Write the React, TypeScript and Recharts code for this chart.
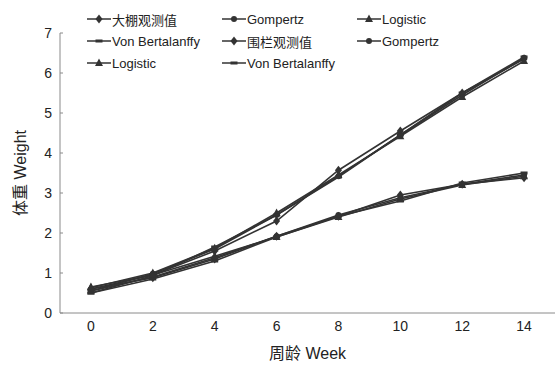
import React from 'react';
import { LineChart, Line, XAxis, YAxis, Legend } from 'recharts';

// weeks (周龄)
const weeks = [0, 2, 4, 6, 8, 10, 12, 14];

// 大棚 (greenhouse) group
const ghObserved = [0.6, 0.95, 1.55, 2.3, 3.57, 4.55, 5.5, 6.35];
const ghGompertz = [0.55, 0.98, 1.6, 2.45, 3.42, 4.45, 5.45, 6.38];
const ghLogistic = [0.63, 1.0, 1.62, 2.5, 3.45, 4.42, 5.4, 6.3];
const ghVonB = [0.5, 0.93, 1.65, 2.45, 3.4, 4.45, 5.5, 6.4];

// 围栏 (fence) group
const fcObserved = [0.6, 0.88, 1.35, 1.92, 2.42, 2.95, 3.22, 3.38];
const fcGompertz = [0.55, 0.9, 1.38, 1.92, 2.45, 2.88, 3.22, 3.45];
const fcLogistic = [0.65, 0.95, 1.42, 1.9, 2.4, 2.85, 3.2, 3.42];
const fcVonB = [0.5, 0.85, 1.3, 1.9, 2.42, 2.8, 3.25, 3.5];

const yTicks = [0, 1, 2, 3, 4, 5, 6, 7];
const edgeTicks = [1, 3, 5, 7, 9, 11, 13, 15];

type Shape = 'diamond' | 'circle' | 'triangle' | 'dash';

const series: { key: string; name: string; shape: Shape; values: number[] }[] = [
  { key: 'ghObs', name: '大棚观测值', shape: 'diamond', values: ghObserved },
  { key: 'ghGom', name: 'Gompertz', shape: 'circle', values: ghGompertz },
  { key: 'ghLog', name: 'Logistic', shape: 'triangle', values: ghLogistic },
  { key: 'ghVB', name: 'Von Bertalanffy', shape: 'dash', values: ghVonB },
  { key: 'fcObs', name: '围栏观测值', shape: 'diamond', values: fcObserved },
  { key: 'fcGom', name: 'Gompertz', shape: 'circle', values: fcGompertz },
  { key: 'fcLog', name: 'Logistic', shape: 'triangle', values: fcLogistic },
  { key: 'fcVB', name: 'Von Bertalanffy', shape: 'dash', values: fcVonB },
];

const data = weeks.map((w, i) => {
  const row: Record<string, number> = { week: w };
  series.forEach(s => { row[s.key] = s.values[i]; });
  return row;
});

const INK = '#333';
const AXIS = '#8a8a8a';
const FONT = '"Liberation Sans", Arial, "Noto Sans CJK SC", sans-serif';

const Marker = ({ shape, cx, cy }: { shape: Shape; cx: number; cy: number }) => {
  if (shape === 'diamond') {
    return <polygon points={`${cx},${cy - 4.5} ${cx + 3.5},${cy} ${cx},${cy + 4.5} ${cx - 3.5},${cy}`} fill={INK} />;
  }
  if (shape === 'circle') {
    return <circle cx={cx} cy={cy} r={3} fill={INK} />;
  }
  if (shape === 'triangle') {
    return <polygon points={`${cx},${cy - 4.5} ${cx + 4},${cy + 3} ${cx - 4},${cy + 3}`} fill={INK} />;
  }
  return <rect x={cx - 3.5} y={cy - 1.5} width={7} height={3} fill={INK} />;
};

const LegendBox = () => (
  <div style={{ display: 'flex', flexWrap: 'wrap', width: 420, fontFamily: FONT, fontSize: 13, color: '#222' }}>
    {series.map(s => (
      <div key={s.key} style={{ width: 135, height: 22, display: 'flex', alignItems: 'center' }}>
        <svg width={26} height={12}>
          <line x1={1} y1={6} x2={25} y2={6} stroke={INK} strokeWidth={1.5} />
          <Marker shape={s.shape} cx={13} cy={6} />
        </svg>
        <span>{s.name}</span>
      </div>
    ))}
  </div>
);

const App: React.FC = () => {
  return (
    <div style={{ position: 'absolute', left: 0, top: 0, background: '#fff' }}>
      <LineChart width={555} height={365} data={data} margin={{ top: 33, right: 0, bottom: 0, left: 0 }}>
        {/* tick marks sit between the week labels */}
        <XAxis
          xAxisId="edges"
          dataKey="week"
          type="number"
          domain={[-1, 15]}
          ticks={edgeTicks}
          tickFormatter={() => ''}
          axisLine={false}
          tickLine={{ stroke: AXIS }}
          tickSize={-4}
          height={0}
        />
        <XAxis
          xAxisId="labels"
          dataKey="week"
          type="number"
          domain={[-1, 15]}
          ticks={weeks}
          tickLine={false}
          axisLine={{ stroke: AXIS }}
          tick={{ fill: '#222', fontSize: 14, fontFamily: FONT }}
          height={52}
          label={{ value: '周龄 Week', position: 'insideBottom', offset: 6, fill: '#222', fontSize: 16, fontFamily: FONT }}
        />
        <YAxis
          type="number"
          domain={[0, 7]}
          ticks={yTicks}
          width={60}
          axisLine={{ stroke: AXIS }}
          tickLine={{ stroke: AXIS }}
          tickSize={-3}
          tickMargin={11}
          tick={{ fill: '#222', fontSize: 14, fontFamily: FONT }}
          label={{ value: '体重 Weight', angle: -90, position: 'insideLeft', offset: 20, fill: '#222', fontSize: 16, fontFamily: FONT, style: { textAnchor: 'middle' } }}
        />
        <Legend
          verticalAlign="middle"
          layout="horizontal"
          wrapperStyle={{ top: 8, left: 86, width: 420 }}
          content={() => <LegendBox />}
        />
        {series.map(s => (
          <Line
            key={s.key}
            xAxisId="labels"
            dataKey={s.key}
            name={s.name}
            stroke={INK}
            strokeWidth={1.6}
            isAnimationActive={false}
            dot={(p: any) => <Marker key={`${s.key}-${p.index}`} shape={s.shape} cx={p.cx} cy={p.cy} />}
            activeDot={false}
          />
        ))}
      </LineChart>
    </div>
  );
};

export default App;
